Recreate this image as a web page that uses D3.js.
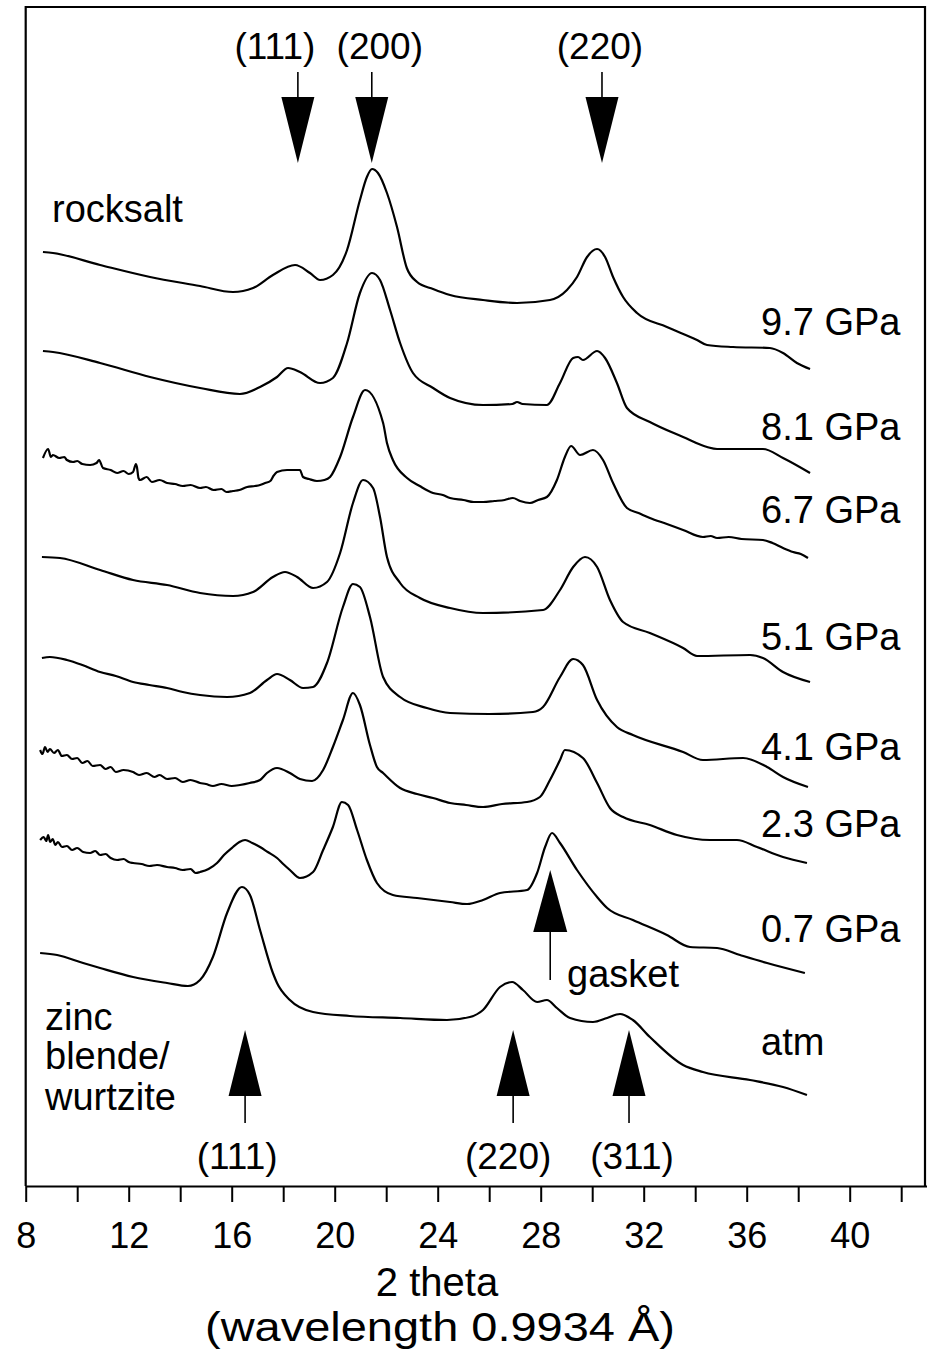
<!DOCTYPE html>
<html>
<head>
<meta charset="utf-8">
<script src="https://cdn.jsdelivr.net/npm/d3@7"></script>
<style>
  html, body { margin: 0; padding: 0; background: #fff; }
  svg text { font-family: "Liberation Sans", Arial, Helvetica, sans-serif; fill: #000; }
</style>
</head>
<body>
<svg id="chart" width="927" height="1351"></svg>
<script>
// ---- data: 2-theta (deg) vs. stacked intensity (arb. units) ----
const xTickValues = [8, 10, 12, 14, 16, 18, 20, 22, 24, 26, 28, 30, 32, 34, 36, 38, 40, 42];
const xTickLabels = [8, 12, 16, 20, 24, 28, 32, 36, 40];

const pressureLabels = ["9.7 GPa", "8.1 GPa", "6.7 GPa", "5.1 GPa", "4.1 GPa", "2.3 GPa", "0.7 GPa", "atm"];

const scan97 = [[8.67,934],[9.06,933],[10.89,921],[12.83,909],[14.77,900],[16.05,894],[16.83,898],[17.6,911],[18.46,921],[19.04,913],[19.43,906],[19.93,911],[20.48,936],[20.98,986],[21.25,1009],[21.45,1017],[21.68,1013],[22.03,993],[22.42,959],[22.8,918],[23.2,904],[23.82,897],[24.48,891],[25.76,886],[27.08,883],[28.36,886],[29.02,896],[29.41,909],[29.8,929],[30.19,937],[30.5,929],[30.81,909],[31.2,889],[31.74,873],[32.9,859],[34.07,846],[34.46,841],[35.47,839],[36.9,838],[37.41,833],[37.95,823],[38.46,817]];

const scan81 = [[8.67,835],[9.06,834],[10.89,823],[12.83,809],[14.77,798],[16.32,792],[17.1,799],[17.76,809],[18.19,818],[18.65,814],[19.43,803],[19.93,808],[20.48,843],[20.98,893],[21.45,913],[21.76,906],[22.15,876],[22.54,843],[23.04,813],[23.82,798],[24.48,788],[25.76,781],[26.9,782],[27.08,784],[27.3,782],[28.24,781],[28.75,803],[29.26,828],[29.45,829],[29.64,826],[30.19,835],[30.5,828],[30.96,803],[31.35,778],[32.24,764],[33.53,749],[34.46,739],[34.85,737],[36.63,737],[37.41,728],[38.46,713]];

const scan67 = [[8.67,728],[8.87,737],[8.98,729],[9.06,731],[9.3,728],[9.5,729],[9.6,726],[9.84,724],[10.0,725],[10.2,722],[10.5,721],[10.75,723],[10.85,726],[11.0,718],[11.3,716],[11.55,713],[11.8,715],[12.0,712],[12.17,714],[12.28,722],[12.32,719],[12.38,708],[12.44,706],[12.7,709],[12.9,704],[13.2,706],[13.49,703],[13.8,702],[14.1,700],[14.4,701],[14.77,698],[15.0,699],[15.3,696],[15.6,697],[15.8,694],[16.05,695],[16.3,696],[16.6,699],[16.9,700],[17.1,701],[17.3,703],[17.5,705],[17.62,710],[17.76,714],[18.15,716],[18.65,716],[18.77,709],[19.0,707],[19.31,705],[19.6,706],[19.82,709],[20.21,729],[20.71,769],[21.18,796],[21.88,763],[22.03,743],[22.26,726],[22.81,708],[23.3,700],[23.82,693],[24.2,691],[24.48,688],[25.0,686],[25.4,684],[25.76,684],[26.2,685],[26.6,686],[26.92,688],[27.2,685],[27.58,683],[27.9,686],[28.24,689],[28.63,706],[28.94,729],[29.18,740],[29.53,731],[30.03,736],[30.42,726],[30.81,703],[31.35,678],[31.8,673],[32.24,668],[32.9,662],[33.53,656],[34.3,649],[34.6,650],[34.85,648],[35.3,649],[35.8,647],[36.63,646],[37.0,643],[37.41,638],[37.8,634],[38.1,632],[38.38,628]];

const scan51 = [[8.63,629],[9.33,628],[10.89,616],[12.17,606],[13.49,601],[14.77,593],[16.05,590],[16.83,594],[17.6,609],[18.07,614],[18.54,609],[19.16,598],[19.7,604],[20.21,633],[20.71,683],[21.1,706],[21.49,698],[21.76,669],[22.03,629],[22.54,603],[23.31,588],[24.48,578],[25.76,573],[28.09,576],[28.75,596],[29.26,619],[29.72,629],[30.19,619],[30.69,586],[31.2,564],[32.24,553],[33.53,538],[34.07,530],[36.13,531],[36.63,528],[37.41,514],[38.46,504]];

const scan41 = [[8.63,528],[8.94,529],[9.6,526],[10.2,521],[10.89,514],[11.5,510],[12.17,504],[12.8,501],[13.49,498],[14.1,494],[14.77,491],[15.82,489],[16.71,493],[17.37,506],[17.76,512],[18.26,506],[18.77,498],[19.16,499],[19.7,523],[20.32,579],[20.71,602],[20.98,599],[21.37,569],[21.88,509],[22.54,489],[23.58,478],[24.48,473],[26.0,472],[27.7,474],[28.09,479],[28.75,509],[29.26,527],[29.64,521],[30.19,486],[30.96,459],[31.58,451],[33.53,434],[34.3,426],[35.86,428],[36.79,419],[37.41,409],[38.38,399]];

const scan23 = [[8.56,436],[8.65,432],[8.75,439],[8.85,434],[8.94,437],[9.1,433],[9.25,436],[9.4,430],[9.6,431],[9.8,427],[10.0,428],[10.2,423],[10.4,425],[10.6,420],[10.89,421],[11.1,417],[11.3,419],[11.5,414],[11.8,416],[12.17,414],[12.4,411],[12.7,413],[13.0,409],[13.2,411],[13.49,407],[13.8,408],[14.1,404],[14.4,406],[14.77,403],[15.0,402],[15.27,400],[15.6,402],[16.0,400],[16.32,401],[16.7,403],[17.1,406],[17.37,413],[17.76,418],[18.26,413],[18.65,407],[19.12,405],[19.55,416],[19.93,439],[20.32,466],[20.71,493],[20.98,481],[21.37,441],[21.64,419],[21.88,413],[22.54,398],[23.2,392],[23.82,388],[24.48,383],[25.1,381],[25.76,379],[26.5,382],[27.47,384],[27.97,389],[28.36,406],[28.75,426],[28.94,436],[29.64,428],[30.19,403],[30.69,378],[31.2,369],[32.24,361],[33.29,351],[34.57,346],[35.62,346],[36.4,339],[37.41,329],[38.34,323]];

const scan07 = [[8.56,346],[8.7,349],[8.8,345],[8.87,351],[8.95,344],[9.05,347],[9.15,341],[9.25,344],[9.41,339],[9.6,340],[9.8,336],[10.0,338],[10.23,334],[10.5,333],[10.7,335],[10.89,331],[11.1,332],[11.3,328],[11.55,326],[11.8,327],[12.0,324],[12.17,323],[12.5,322],[12.8,320],[13.1,321],[13.49,319],[13.8,318],[14.1,316],[14.4,317],[14.6,313],[14.77,314],[15.1,317],[15.43,323],[15.7,331],[16.05,339],[16.3,344],[16.52,346],[16.8,343],[17.1,339],[17.4,334],[17.76,328],[18.0,322],[18.26,316],[18.65,308],[19.16,314],[19.55,336],[19.93,359],[20.28,384],[20.52,381],[20.87,356],[21.25,326],[21.64,303],[22.26,291],[23.2,288],[24.48,284],[25.14,282],[25.76,286],[26.42,293],[27.47,296],[27.86,313],[28.17,339],[28.44,353],[28.75,343],[29.41,316],[30.19,289],[30.58,278],[31.58,266],[32.9,251],[33.8,239],[34.85,238],[35.74,231],[36.79,223],[38.26,213]];

const scanAtm = [[8.56,233],[9.22,231],[10.23,223],[10.89,218],[12.17,209],[13.49,203],[14.3,200],[14.77,206],[15.27,229],[15.82,273],[16.4,299],[16.71,291],[17.1,256],[17.6,213],[17.76,203],[18.26,186],[19.16,174],[20.59,170],[22.54,168],[24.36,166],[25.25,169],[25.76,176],[26.42,199],[26.89,204],[27.31,196],[27.86,184],[28.24,186],[28.63,178],[29.14,168],[30.03,164],[30.58,168],[31.08,172],[31.58,166],[32.24,149],[33.53,121],[34.3,114],[36.13,106],[37.41,99],[38.34,91]];

const scans = [scan97, scan81, scan67, scan51, scan41, scan23, scan07, scanAtm];

// Bragg reflections marked on the plot (2-theta, deg)
const rocksaltHkl = ["(111)", "(200)", "(220)"];
const rocksaltTheta = [18.57, 21.44, 30.38];
const zincblendeHkl = ["(111)", "(220)", "(311)"];
const zincblendeTheta = [16.52, 26.93, 31.43];
const gasketTheta = 28.37;

// ---- layout ----
const svg = d3.select("#chart");
const axisY = 1186, frameTop = 7, frameLeft = 25.7, frameRight = 925;

const x = d3.scaleLinear().domain([8, 43]).range([frameLeft, frameLeft + 35 * 25.75]);
const y = d3.scaleLinear().domain([0, 1180]).range([axisY, axisY - 1180]);

// frame (top and sides)
svg.append("path")
  .attr("d", `M${frameLeft},${axisY} V${frameTop} H${frameRight} V${axisY}`)
  .attr("fill", "none").attr("stroke", "#000").attr("stroke-width", 2.2);

// x axis
const axis = d3.axisBottom(x)
  .tickValues(xTickValues)
  .tickSize(16)
  .tickSizeOuter(0)
  .tickPadding(20)
  .tickFormat(d => xTickLabels.includes(d) ? String(d) : "");

const gAxis = svg.append("g").attr("transform", `translate(0,${axisY})`).call(axis);
gAxis.select(".domain").attr("stroke", "#000").attr("stroke-width", 2.2);
gAxis.selectAll(".tick line").attr("stroke", "#000").attr("stroke-width", 2);
gAxis.selectAll(".tick text")
  .attr("font-family", "'Liberation Sans', Arial, sans-serif")
  .attr("font-size", 36).attr("fill", "#000");

// axis title
svg.append("text").attr("x", 437).attr("y", 1296).attr("text-anchor", "middle")
  .attr("font-size", 40).text("2 theta");
svg.append("text").attr("x", 440).attr("y", 1341).attr("text-anchor", "middle")
  .attr("font-size", 40)
  .attr("textLength", 470).attr("lengthAdjust", "spacingAndGlyphs")
  .text("(wavelength 0.9934 Å)");

// diffraction patterns
const line = d3.line()
  .x(d => x(d[0]))
  .y(d => y(d[1]))
  .curve(d3.curveMonotoneX);

svg.append("g").selectAll("path")
  .data(scans)
  .join("path")
  .attr("d", line)
  .attr("fill", "none")
  .attr("stroke", "#000")
  .attr("stroke-width", 2.2)
  .attr("stroke-linejoin", "round");

// pressure labels at the right end of each pattern
const labelBaselines = [335, 440, 523, 650, 760, 837, 942, 1055];
svg.append("g").selectAll("text")
  .data(pressureLabels)
  .join("text")
  .attr("x", 761)
  .attr("y", (d, i) => labelBaselines[i])
  .attr("font-size", 38)
  .text(d => d);

// phase labels
svg.append("text").attr("x", 52).attr("y", 222).attr("font-size", 38).text("rocksalt");
const zbLines = ["zinc", "blende/", "wurtzite"];
const zbBaselines = [1030, 1069, 1110];
svg.append("g").selectAll("text").data(zbLines).join("text")
  .attr("x", 45).attr("y", (d, i) => zbBaselines[i])
  .attr("font-size", 38).text(d => d);

// rocksalt reflections: downward arrows from the top
const topShift = [-23, 8, -2];
const gTop = svg.append("g");
rocksaltTheta.forEach((t, i) => {
  const cx = x(t);
  gTop.append("text").attr("x", cx + topShift[i]).attr("y", 59)
    .attr("text-anchor", "middle").attr("font-size", 37).text(rocksaltHkl[i]);
  gTop.append("line").attr("x1", cx).attr("x2", cx).attr("y1", 72).attr("y2", 98)
    .attr("stroke", "#000").attr("stroke-width", 1.6);
  gTop.append("path").attr("d", `M${cx - 16.5},97 L${cx + 16.5},97 L${cx},163 Z`).attr("fill", "#000");
});

// zinc blende reflections: upward arrows from below
const botShift = [-8, -5, 3];
const gBot = svg.append("g");
zincblendeTheta.forEach((t, i) => {
  const cx = x(t);
  gBot.append("path").attr("d", `M${cx - 16.5},1096 L${cx + 16.5},1096 L${cx},1030 Z`).attr("fill", "#000");
  gBot.append("line").attr("x1", cx).attr("x2", cx).attr("y1", 1095).attr("y2", 1123)
    .attr("stroke", "#000").attr("stroke-width", 1.6);
  gBot.append("text").attr("x", cx + botShift[i]).attr("y", 1169)
    .attr("text-anchor", "middle").attr("font-size", 37).text(zincblendeHkl[i]);
});

// gasket reflection
const gx = x(gasketTheta);
svg.append("path").attr("d", `M${gx - 17},932 L${gx + 17},932 L${gx},870 Z`).attr("fill", "#000");
svg.append("line").attr("x1", gx).attr("x2", gx).attr("y1", 931).attr("y2", 980)
  .attr("stroke", "#000").attr("stroke-width", 1.6);
svg.append("text").attr("x", 567).attr("y", 987).attr("font-size", 38).text("gasket");
</script>
</body>
</html>
